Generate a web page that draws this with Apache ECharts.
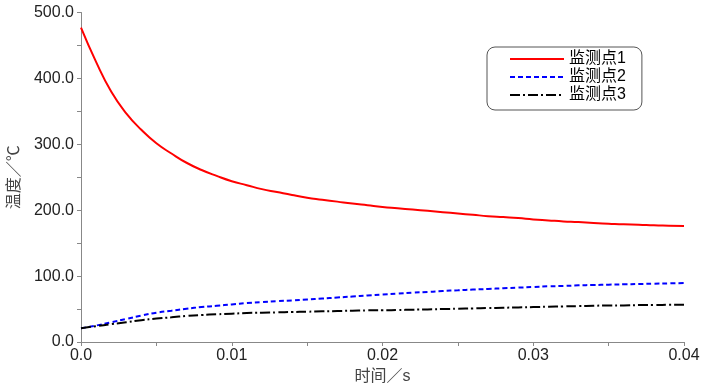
<!DOCTYPE html>
<html><head><meta charset="utf-8">
<script src="https://cdn.jsdelivr.net/npm/echarts@6/dist/echarts.min.js"></script>
<style>html,body{margin:0;padding:0;background:#fff}#c{width:708px;height:384px}</style>
</head><body><div id="c"></div>
<script>
const times = [0,0.001,0.002,0.003,0.004,0.005,0.006,0.007,0.008,0.009,0.010,0.011,0.012,0.013,0.014,0.015,0.016,0.017,0.018,0.019,0.020,0.021,0.022,0.023,0.024,0.025,0.026,0.027,0.028,0.029,0.030,0.031,0.032,0.033,0.034,0.035,0.036,0.037,0.038,0.039,0.040];
const point1 = [477,425,380,347,322,301.5,286,272,261,252,244,238,232,227.5,223,219,216,213,210,207.5,205,203,201,199,197,195,193,191,189.5,188,186,184.5,183,182,180.5,179.5,178.5,178,177,176.5,176];
const point2 = [21,25,30,35,40,44.5,47.5,50.5,53,55,57,59,60.5,62,63,64.5,66,67.5,69,70.5,72,73.5,75,76,77.5,78.5,79.5,80.5,81.5,82.5,83.5,84.5,85,86,86.5,87,87.5,88,88.5,89,89.5];
const point3 = [21,24,27,30,33,35.5,37.5,39.5,41,42,43,44,44.5,45,45.5,46,46.5,47,47.5,48,48,48.5,49,49.5,50,50.5,51,51.5,52,52.5,53,53.5,54,54.5,55,55.5,55.5,56,56,56.5,56.7];
const seriesNames = ['监测点1','监测点2','监测点3'];
const xTickLabels = ['0.0','0.01','0.02','0.03','0.04'];
const yTickLabels = ['0.0','100.0','200.0','300.0','400.0','500.0'];
const xName = '时间／s';
const yName = '温度／℃';

const pair = arr => times.map((t,i)=>[t,arr[i]]);
const chart = echarts.init(document.getElementById('c'));
const fontLatin = 'Liberation Sans, Arial, sans-serif';
const fontCJK = 'Liberation Sans, Noto Sans CJK SC, sans-serif';
const styles = [
  {color:'#ff0000', type:'solid'},
  {color:'#0000ff', type:[5,3]},
  {color:'#000000', type:[10,3,2,3]}
];
chart.setOption({
  animation:false,
  backgroundColor:'#fff',
  grid:{left:81,right:24,top:12.5,bottom:42,containLabel:false,outerBoundsMode:'none'},
  legend:{
    orient:'vertical', left:487, top:47,
    padding:[4,16,7,22], itemGap:2,
    itemWidth:54, itemHeight:16,
    borderColor:'#555', borderWidth:1, borderRadius:8,
    backgroundColor:'#fff',
    itemStyle:{opacity:0, color:'transparent', borderWidth:0},
    textStyle:{fontFamily:fontCJK,fontSize:16,color:'#000'},
    data:seriesNames
  },
  xAxis:{
    type:'value', min:0, max:0.04, interval:0.01,
    name:xName, nameLocation:'middle', nameGap:25,
    nameTextStyle:{fontFamily:fontCJK,fontSize:16,color:'#444'},
    axisLine:{lineStyle:{color:'#888',width:1}},
    axisTick:{show:true,length:4,lineStyle:{color:'#888'}},
    minorTick:{show:true,splitNumber:2,length:4,lineStyle:{color:'#888'}},
    splitLine:{show:false},
    axisLabel:{fontFamily:fontLatin,fontSize:16,color:'#222',margin:6,
      formatter:(v)=>xTickLabels[Math.round(v/0.01)]}
  },
  yAxis:{
    type:'value', min:0, max:500, interval:100,
    name:yName, nameLocation:'middle', nameGap:58, nameRotate:90,
    nameTextStyle:{fontFamily:fontCJK,fontSize:16,color:'#444'},
    axisLine:{show:true,lineStyle:{color:'#888',width:1}},
    axisTick:{show:true,length:4,lineStyle:{color:'#888'}},
    minorTick:{show:true,splitNumber:2,length:4,lineStyle:{color:'#888'}},
    splitLine:{show:false},
    axisLabel:{fontFamily:fontLatin,fontSize:16,color:'#222',margin:7,
      formatter:(v)=>yTickLabels[Math.round(v/100)]}
  },
  series:[point1,point2,point3].map((arr,i)=>({
    name:seriesNames[i], type:'line', data:pair(arr),
    showSymbol:false, symbol:'none', smooth:true,
    lineStyle:{color:styles[i].color,type:styles[i].type,width:2},
    itemStyle:{color:styles[i].color}
  }))
});
</script></body></html>
